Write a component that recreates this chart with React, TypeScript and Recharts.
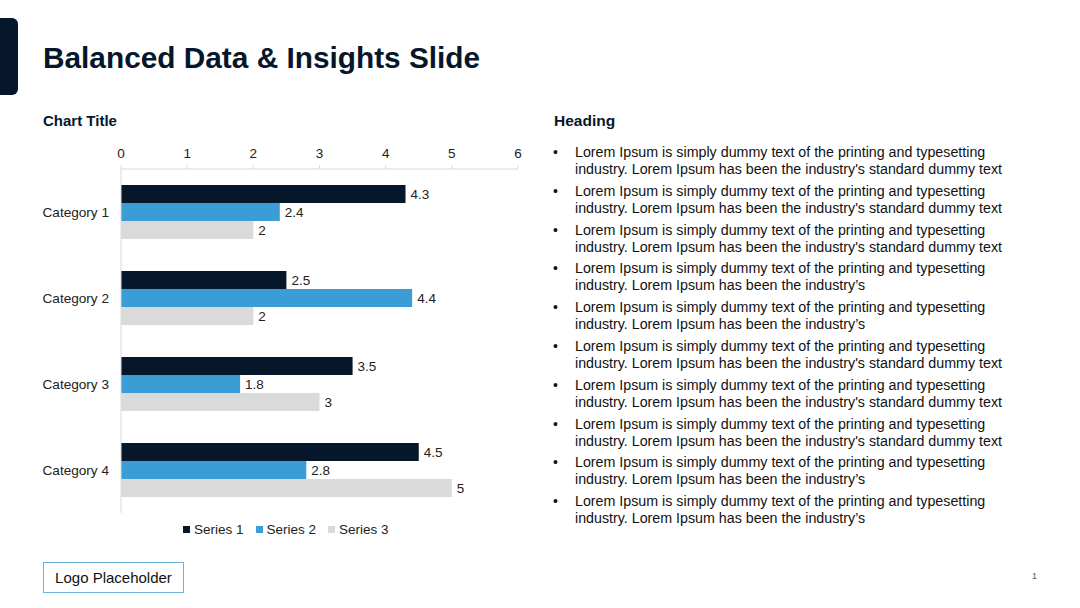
import React from "react";
import { BarChart, Bar, XAxis, YAxis, LabelList } from "recharts";

const categories = ["Category 1", "Category 2", "Category 3", "Category 4"];
const series1 = [4.3, 2.5, 3.5, 4.5];
const series2 = [2.4, 4.4, 1.8, 2.8];
const series3 = [2, 2, 3, 5];
const seriesNames = ["Series 1", "Series 2", "Series 3"];
const seriesColors = ["#06172b", "#3a9dd6", "#dadada"];
const xTicks = [0, 1, 2, 3, 4, 5, 6];

const bulletFull =
  "industry. Lorem Ipsum has been the industry's standard dummy text";
const bulletShort = "industry. Lorem Ipsum has been the industry\u2019s";
const bulletFirst = "Lorem Ipsum is simply dummy text of the printing and typesetting";
const bulletSecondLines = [
  bulletFull,
  bulletFull,
  bulletFull,
  bulletShort,
  bulletShort,
  bulletFull,
  bulletFull,
  bulletFull,
  bulletShort,
  bulletShort,
];

const data = categories.map((name, i) => ({
  name,
  s1: series1[i],
  s2: series2[i],
  s3: series3[i],
}));

const FONT = "'Liberation Sans', Arial, sans-serif";

export default function App() {
  return (
    <div
      style={{
        position: "absolute",
        left: 0,
        top: 0,
        width: 1080,
        height: 608,
        background: "#fff",
        fontFamily: FONT,
        overflow: "hidden",
      }}
    >
      <div
        style={{
          position: "absolute",
          left: -10,
          top: 18,
          width: 28,
          height: 77,
          background: "#06172b",
          borderRadius: 6,
        }}
      />
      <div
        style={{
          position: "absolute",
          left: 43,
          top: 41,
          fontSize: 29.8,
          fontWeight: 700,
          color: "#06172b",
          whiteSpace: "nowrap",
        }}
      >
        Balanced Data &amp; Insights Slide
      </div>
      <div
        style={{
          position: "absolute",
          left: 43,
          top: 112,
          fontSize: 15,
          fontWeight: 700,
          color: "#06172b",
        }}
      >
        Chart Title
      </div>
      <div
        style={{
          position: "absolute",
          left: 554,
          top: 112,
          fontSize: 15.5,
          fontWeight: 700,
          color: "#06172b",
        }}
      >
        Heading
      </div>

      <div style={{ position: "absolute", left: 0, top: 0 }}>
        <BarChart
          width={540}
          height={560}
          data={data}
          layout="vertical"
          margin={{ top: 149, right: 22, bottom: 47, left: 0 }}
          barCategoryGap="18.6%"
          barGap={0}
        >
          <XAxis
            type="number"
            orientation="top"
            domain={[0, 6]}
            ticks={xTicks}
            interval={0}
            height={20}
            axisLine={{ stroke: "#d9d9d9" }}
            tickLine={{ stroke: "#d9d9d9" }}
            tickSize={4}
            tickMargin={7}
            tick={{ fontSize: 13.5, fill: "#222", fontFamily: FONT }}
          />
          <YAxis
            type="category"
            dataKey="name"
            width={121}
            axisLine={{ stroke: "#d9d9d9" }}
            tickLine={false}
            tickSize={0}
            tickMargin={12}
            tick={{ fontSize: 13.6, fill: "#222", fontFamily: FONT }}
          />
          {["s1", "s2", "s3"].map((k, i) => (
            <Bar
              key={k}
              dataKey={k}
              name={seriesNames[i]}
              fill={seriesColors[i]}
              isAnimationActive={false}
            >
              <LabelList
                dataKey={k}
                position="right"
                offset={5}
                style={{ fontSize: 13.5, fill: "#222", fontFamily: FONT }}
              />
            </Bar>
          ))}
        </BarChart>
      </div>

      <div
        style={{
          position: "absolute",
          left: 183,
          top: 522,
          display: "flex",
          gap: 12,
          fontSize: 13.5,
          color: "#222",
        }}
      >
        {seriesNames.map((n, i) => (
          <div key={n} style={{ display: "flex", alignItems: "center" }}>
            <span
              style={{
                display: "inline-block",
                width: 7,
                height: 7,
                background: seriesColors[i],
                marginRight: 4,
              }}
            />
            {n}
          </div>
        ))}
      </div>

      {bulletSecondLines.map((second, i) => (
        <div
          key={i}
          style={{
            position: "absolute",
            left: 553,
            top: 144 + i * 38.8,
            fontSize: 14.25,
            lineHeight: "17px",
            color: "#111",
            display: "flex",
          }}
        >
          <div style={{ width: 22, fontSize: 14 }}>•</div>
          <div>
            <div style={{ whiteSpace: "nowrap" }}>{bulletFirst}</div>
            <div style={{ whiteSpace: "nowrap" }}>{second}</div>
          </div>
        </div>
      ))}

      <div
        style={{
          position: "absolute",
          left: 43,
          top: 562,
          width: 139,
          height: 29,
          border: "1.5px solid #6ab4de",
          display: "flex",
          alignItems: "center",
          justifyContent: "center",
          fontSize: 15,
          color: "#111",
        }}
      >
        Logo Placeholder
      </div>
      <div
        style={{
          position: "absolute",
          left: 1032,
          top: 571,
          fontSize: 9,
          color: "#555",
        }}
      >
        1
      </div>
    </div>
  );
}
